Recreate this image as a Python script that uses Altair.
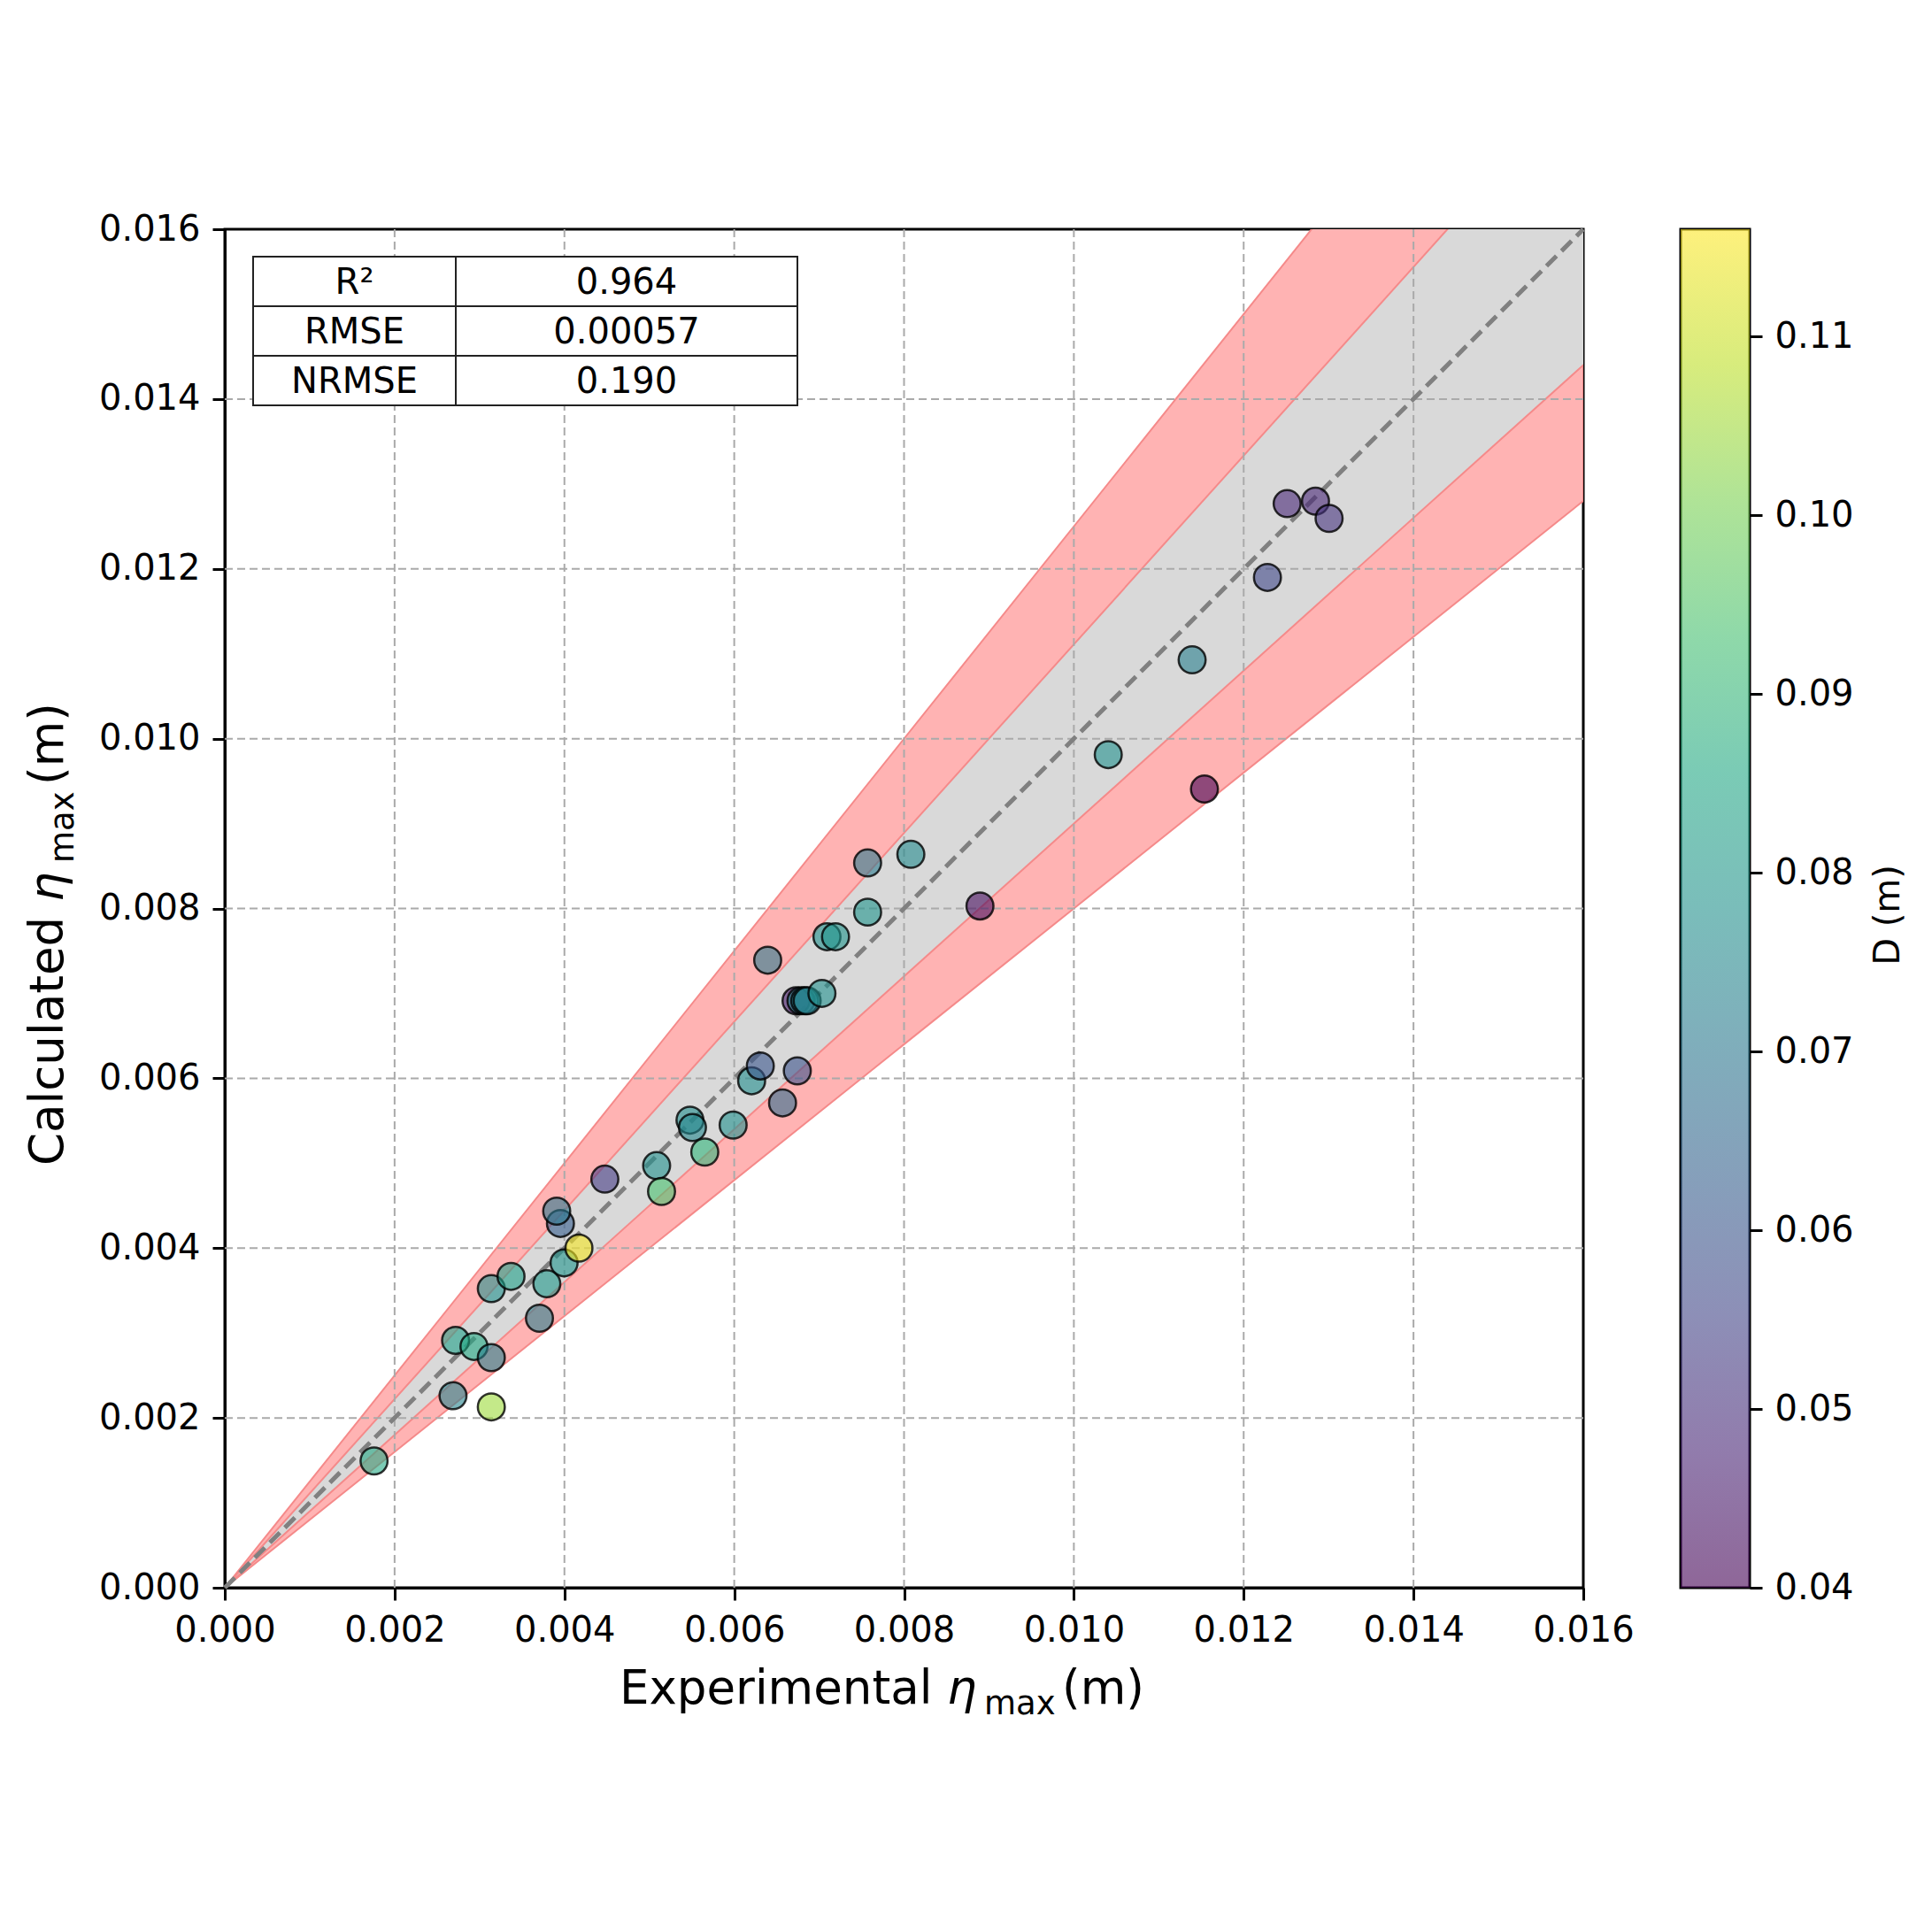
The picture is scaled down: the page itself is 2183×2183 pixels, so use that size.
import altair as alt
import pandas as pd

# ---------------- data ----------------
exp_eta = [0.001758, 0.002688, 0.003139, 0.002718, 0.002935, 0.003139, 0.003139, 0.003371,
           0.003706, 0.003793, 0.003996, 0.004171, 0.003953, 0.003909, 0.004476, 0.005086,
           0.005144, 0.005479, 0.005508, 0.005653, 0.005987, 0.006205, 0.006307, 0.006569,
           0.006743, 0.006394, 0.006728, 0.006786, 0.006830, 0.006859, 0.007033, 0.007092,
           0.007193, 0.007571, 0.007571, 0.008080, 0.008894, 0.010405, 0.011538, 0.011393,
           0.012280, 0.012512, 0.012846, 0.013006]
calc_eta = [0.001493, 0.002261, 0.002130, 0.002913, 0.002841, 0.002710, 0.003522, 0.003667,
            0.003174, 0.003580, 0.003826, 0.004000, 0.004290, 0.004435, 0.004812, 0.004971,
            0.004667, 0.005507, 0.005420, 0.005131, 0.005449, 0.005971, 0.006145, 0.005710,
            0.006087, 0.007391, 0.006913, 0.006913, 0.006913, 0.006913, 0.007000, 0.007667,
            0.007667, 0.007957, 0.008536, 0.008638, 0.008029, 0.009812, 0.009406, 0.010928,
            0.011899, 0.012768, 0.012797, 0.012594]
D_vals = [0.086, 0.074, 0.105, 0.083, 0.086, 0.073, 0.078, 0.083,
          0.072, 0.080, 0.079, 0.115, 0.062, 0.070, 0.053, 0.078,
          0.094, 0.077, 0.075, 0.090, 0.078, 0.077, 0.060, 0.067,
          0.059, 0.071, 0.045, 0.075, 0.074, 0.073, 0.078, 0.078,
          0.079, 0.079, 0.071, 0.076, 0.042, 0.078, 0.040, 0.072,
          0.056, 0.048, 0.048, 0.051]

axis_ticks = [0.000, 0.002, 0.004, 0.006, 0.008, 0.010, 0.012, 0.014, 0.016]
grid_ticks = [0.002, 0.004, 0.006, 0.008, 0.010, 0.012, 0.014]
axis_domain = [0.0, 0.016]
cbar_ticks = [0.04, 0.05, 0.06, 0.07, 0.08, 0.09, 0.10, 0.11]
D_domain = [0.04, 0.116]

band_gray = [0.9, 1 / 0.9]
band_red_low = [0.8, 0.9]
band_red_high = [1 / 0.9, 1.25]

table_names = ["R\u00b2", "RMSE", "NRMSE"]
table_values = ["0.964", "0.00057", "0.190"]

x_title_parts = ["Experimental", "\u03b7", "max", "(m)"]
y_title_parts = ["Calculated", "\u03b7", "max", "(m)"]
cbar_title = "D (m)"

VIRIDIS = ["#440154", "#482475", "#414487", "#355f8d", "#2a788e", "#21918c",
           "#22a884", "#44bf70", "#7ad151", "#bddf26", "#fde725"]

# ---------------- styling ----------------
W = 1535
H = 1535
FONT = "DejaVu Sans"
TF = 53     # axis-title font size
SF = 37     # subscript font size

xs = alt.Scale(domain=axis_domain, nice=False, zero=False)
ys = alt.Scale(domain=axis_domain, nice=False, zero=False)
X_AX = alt.Axis(values=axis_ticks, format=".3f", title=None)
Y_AX = alt.Axis(values=axis_ticks, format=".3f", title=None)

pts = pd.DataFrame({"exp": exp_eta, "calc": calc_eta, "D": D_vals})
ends = pd.DataFrame({"x": axis_domain})
grid_df = pd.DataFrame({"v": grid_ticks})
tbl = pd.DataFrame({"name": table_names, "value": table_values, "row": list(range(len(table_names)))})


def band(lo, hi, fill, stroke=None):
    kw = dict(clip=True, fill=fill, opacity=1)
    if stroke:
        kw.update(stroke=stroke, strokeWidth=2)
    return (alt.Chart(ends)
            .transform_calculate(lo=f"datum.x * {lo}", hi=f"datum.x * {hi}")
            .mark_area(**kw)
            .encode(x=alt.X("x:Q", scale=xs, axis=X_AX),
                    y=alt.Y("lo:Q", scale=ys, axis=Y_AX),
                    y2="hi:Q"))


gray_band = band(band_gray[0], band_gray[1], "#d9d9d9")
red_low = band(band_red_low[0], band_red_low[1], "#ffb3b3", "#f58a8a")
red_high = band(band_red_high[0], band_red_high[1], "#ffb3b3", "#f58a8a")

vgrid = alt.Chart(grid_df).mark_rule(color="#aaaaaa", strokeWidth=2, strokeDash=[9, 5]).encode(
    x=alt.X("v:Q", scale=xs, axis=X_AX))
hgrid = alt.Chart(grid_df).mark_rule(color="#aaaaaa", strokeWidth=2, strokeDash=[9, 5]).encode(
    y=alt.Y("v:Q", scale=ys, axis=Y_AX))

diag = alt.Chart(ends).mark_line(color="#808080", strokeWidth=5, strokeDash=[16, 8]).encode(
    x=alt.X("x:Q", scale=xs, axis=X_AX), y=alt.Y("x:Q", scale=ys, axis=Y_AX))

points = alt.Chart(pts).mark_circle(size=930, fillOpacity=0.6, stroke="black",
                                    strokeWidth=2.5, strokeOpacity=0.8).encode(
    x=alt.X("exp:Q", scale=xs, axis=X_AX),
    y=alt.Y("calc:Q", scale=ys, axis=Y_AX),
    fill=alt.Fill("D:Q", scale=alt.Scale(scheme="viridis", domain=D_domain), legend=None))

# statistics table (annotation, positioned in pixels inside the plot)
T_LEFT, T_DIV, T_RIGHT = 32, 261, 647
T_ROWS = [31, 87, 143, 199]
table_layers = []
for i in range(len(table_names)):
    base = alt.Chart(tbl).transform_filter(f"datum.row == {i}")
    top, bot = T_ROWS[i], T_ROWS[i + 1]
    table_layers.append(base.mark_rect(fill="white", stroke="#222222", strokeWidth=2).encode(
        x=alt.value(T_LEFT), x2=alt.value(T_DIV), y=alt.value(top), y2=alt.value(bot)))
    table_layers.append(base.mark_rect(fill="white", stroke="#222222", strokeWidth=2).encode(
        x=alt.value(T_DIV), x2=alt.value(T_RIGHT), y=alt.value(top), y2=alt.value(bot)))
    table_layers.append(base.mark_text(font=FONT, fontSize=40, color="black", align="center",
                                       baseline="middle").encode(
        x=alt.value((T_LEFT + T_DIV) / 2), y=alt.value((top + bot) / 2 + 2), text="name:N"))
    table_layers.append(base.mark_text(font=FONT, fontSize=40, color="black", align="center",
                                       baseline="middle").encode(
        x=alt.value((T_DIV + T_RIGHT) / 2), y=alt.value((top + bot) / 2 + 2), text="value:N"))


def label(txt, x, y, size, angle=0, italic=False, align="left", baseline="alphabetic"):
    kw = dict(font=FONT, fontSize=size, color="black", align=align, baseline=baseline)
    if angle:
        kw["angle"] = angle
    if italic:
        kw["fontStyle"] = "italic"
    return alt.Chart(pd.DataFrame({"t": [txt]})).mark_text(**kw).encode(
        x=alt.value(x), y=alt.value(y), text="t:N")


# axis titles with subscript, built from text pieces
XB = H + 131          # baseline of x title
XS = 446              # start of x title
x_title = [
    label(x_title_parts[0], XS, XB, TF),
    label(x_title_parts[1], XS + 370, XB, TF, italic=True),
    label(x_title_parts[2], XS + 412, XB + 12, SF),
    label(x_title_parts[3], XS + 500, XB, TF),
]
YB = -183             # baseline of y title (rotated)
Y0 = 1058
y_title = [
    label(y_title_parts[0], YB, Y0, TF, angle=270),
    label(y_title_parts[1], YB, Y0 - 298, TF, angle=270, italic=True),
    label(y_title_parts[2], YB + 12, Y0 - 342, SF, angle=270),
    label(y_title_parts[3], YB, Y0 - 430, TF, angle=270),
]

main = alt.layer(gray_band, red_low, red_high, vgrid, hgrid, diag, points,
                 *table_layers, *x_title, *y_title).properties(width=W, height=H)

# colorbar
cbar_df = pd.DataFrame({"lo": [D_domain[0]], "hi": [D_domain[1]]})
grad = alt.Gradient(gradient="linear", x1=0, y1=1, x2=0, y2=0,
                    stops=[alt.GradientStop(color=c, offset=i / (len(VIRIDIS) - 1))
                           for i, c in enumerate(VIRIDIS)])
cbar_rect = alt.Chart(cbar_df).mark_rect(fill=grad, fillOpacity=0.6).encode(
    x=alt.value(0), x2=alt.value(78),
    y=alt.Y("lo:Q", scale=alt.Scale(domain=D_domain, nice=False, zero=False),
            axis=alt.Axis(orient="right", values=cbar_ticks, format=".2f", title=None,
                          domain=False)),
    y2="hi:Q")
cbar_lbl = label(cbar_title, 235, 775, 40, angle=270, align="center", baseline="middle")
cbar = alt.layer(cbar_rect, cbar_lbl).properties(width=78, height=H)

chart = alt.hconcat(main, cbar, spacing=110, bounds="flush").configure_view(
    stroke="black", strokeWidth=3
).configure_axis(
    grid=False, domainColor="black", domainWidth=3, tickColor="black", tickWidth=3,
    tickSize=14, labelFont=FONT, labelFontSize=40, labelColor="black", labelPadding=14,
    labelFlush=False, labelOverlap=False
).properties(
    padding={"left": 19, "top": 229, "right": 10, "bottom": 10},
    background="white"
)

chart.save("out.html", embed_options={"renderer": "svg", "actions": False})
